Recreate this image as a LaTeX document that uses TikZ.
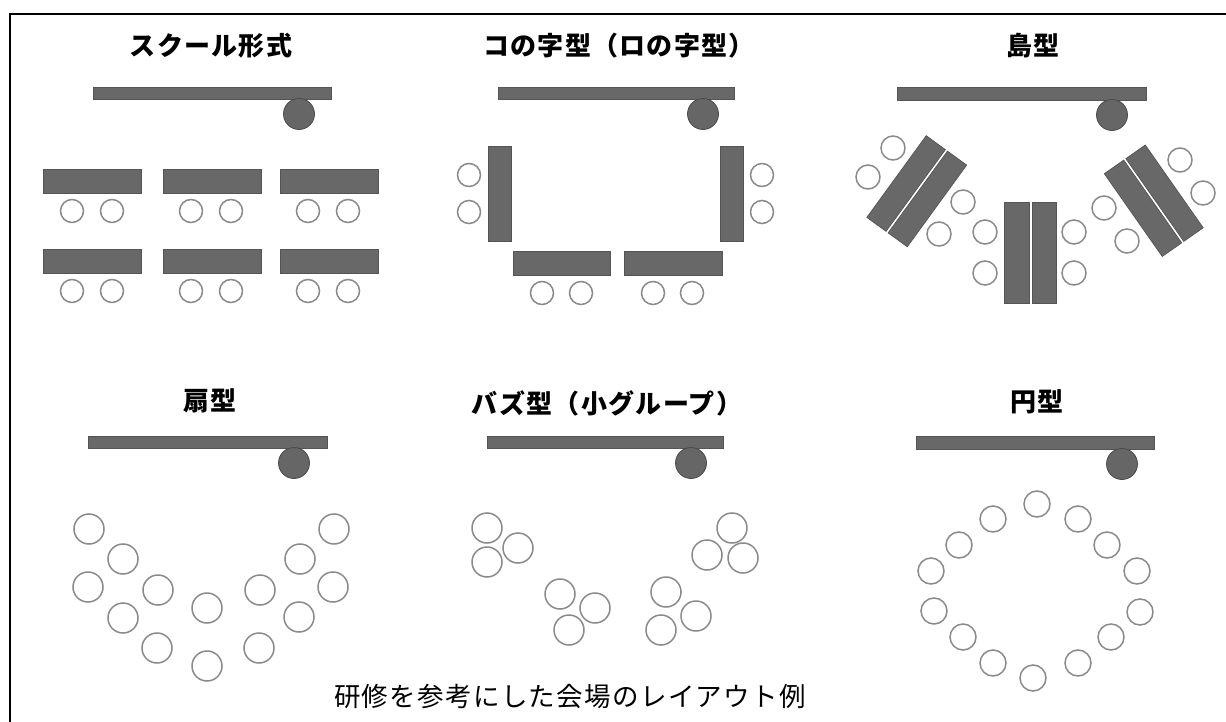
\documentclass[tikz,border=0pt]{standalone}
\usepackage{fontspec}
\newfontfamily\jp{Noto Sans CJK JP}
\newfontfamily\jpcap[LetterSpace=5]{Noto Sans CJK JP}
\newfontfamily\jpttl[LetterSpace=5]{Noto Sans CJK JP}
\definecolor{deskfill}{HTML}{686868}
\definecolor{deskline}{HTML}{555555}
\definecolor{chairline}{HTML}{8A8A8A}
\definecolor{teachfill}{HTML}{666666}
\definecolor{teachline}{HTML}{4A4A4A}
\tikzset{
  desk/.style={fill=deskfill,draw=deskline,line width=0.7pt},
  chair/.style={draw=chairline,fill=white,line width=1.5pt},
  teacher/.style={fill=teachfill,draw=teachline,line width=0.8pt},
  ttl/.style={font=\jpttl\bfseries\fontsize{26}{30}\selectfont,inner sep=0pt},
  captext/.style={font=\jpcap\fontsize{26.5}{30}\selectfont,inner sep=0pt},
  frameline/.style={draw=black,line width=2.5pt}
}
\begin{document}
\begin{tikzpicture}[x=1pt,y=-1pt]
\useasboundingbox (0,0) rectangle (1226,722);
\fill[white] (0,0) rectangle (1226,722);
% frame
\draw[frameline] (9,14) -- (1226,14);
\draw[draw=black,line width=2.2pt] (10,14) -- (10,722);

% ===== Panel 1: school =====
\node[ttl] (t1) at (211,46) {スクール形式};
\draw[desk] (93,87) rectangle (331,99);
\draw[teacher] (299,114) circle (15.5);
\foreach \x/\y in {43/169,163/169,280/169,43/249,163/249,280/249}{
  \draw[desk] (\x,\y) rectangle ++(98,24);
}
\foreach \x in {72,112,191,231,308,348}{
  \draw[chair] (\x,211) circle (11.5);
  \draw[chair] (\x,291) circle (11.5);
}

% ===== Panel 2: U shape =====
\node[ttl] (t2) at (619,46) {コの字型（ロの字型）};
\draw[desk] (498,87) rectangle (734,99);
\draw[teacher] (703,114) circle (15.5);
\draw[desk] (488,146) rectangle (511,241);
\draw[desk] (720,146) rectangle (743,241);
\draw[desk] (513,251) rectangle (610,275);
\draw[desk] (624,251) rectangle (722,275);
\foreach \y in {175,212}{
  \draw[chair] (469,\y) circle (11.5);
  \draw[chair] (762,\y) circle (11.5);
}
\foreach \x in {542,581,653,692}{
  \draw[chair] (\x,293) circle (11.5);
}

% ===== Panel 3: islands =====
\node[ttl] (t3) at (1033,46) {島型};
\draw[desk] (897,87) rectangle (1146,100);
\draw[teacher] (1112,115) circle (15.5);
% center island
\draw[desk] (1004,202) rectangle (1029,303);
\draw[desk] (1032,202) rectangle (1056,303);
\foreach \x/\y in {985/232,985/273,1074/232,1074/273}{
  \draw[chair] (\x,\y) circle (12);
}
% left island
\begin{scope}[shift={(916.75,191.25)},rotate=-36]
  \draw[desk] (-25,-50.5) rectangle (-1.3,50.5);
  \draw[desk] (1.3,-50.5) rectangle (25,50.5);
\end{scope}
\foreach \x/\y in {893/148,868/177,963/202,939/234}{
  \draw[chair] (\x,\y) circle (12);
}
% right island
\begin{scope}[shift={(1153.75,200.75)},rotate=35]
  \draw[desk] (-25,-50.5) rectangle (-1.3,50.5);
  \draw[desk] (1.3,-50.5) rectangle (25,50.5);
\end{scope}
\foreach \x/\y in {1180/160,1203/193,1104/208,1127/241}{
  \draw[chair] (\x,\y) circle (12);
}

% ===== Panel 4: fan =====
\node[ttl] (t4) at (210,401) {扇型};
\draw[desk] (88,436) rectangle (327,448);
\draw[teacher] (294,463) circle (15.5);
\foreach \x/\y in {89/529,123/559,88/587,158/590,123/618,157/648,207/608,207/666,
                   260/590,300/559,334/529,333/587,299/617,259/648}{
  \draw[chair] (\x,\y) circle (15);
}

% ===== Panel 5: buzz =====
\node[ttl] (t5) at (607,403) {バズ型（小グループ）};
\draw[desk] (487,436) rectangle (723,448);
\draw[teacher] (691,463) circle (15.5);
\foreach \x/\y in {487/528,518/548,487/562,
                   560/594,595/608,569/630,
                   666/592,696/616,661/630,
                   732/528,707/555,743/558}{
  \draw[chair] (\x,\y) circle (15);
}

% ===== Panel 6: circle =====
\node[ttl] (t6) at (1037,402) {円型};
\draw[desk] (916,436) rectangle (1154,449);
\draw[teacher] (1122,464) circle (15.5);
\foreach \x/\y in {1037/504,1078/519,1107/545,1137/571,1140/612,1111/637,1078/663,
                   1033/678,993/663,963/637,934/611,931/571,959/545,993/519}{
  \draw[chair] (\x,\y) circle (13);
}

% caption
\node[captext] (caption) at (570,696) {研修を参考にした会場のレイアウト例};
\end{tikzpicture}
\end{document}
